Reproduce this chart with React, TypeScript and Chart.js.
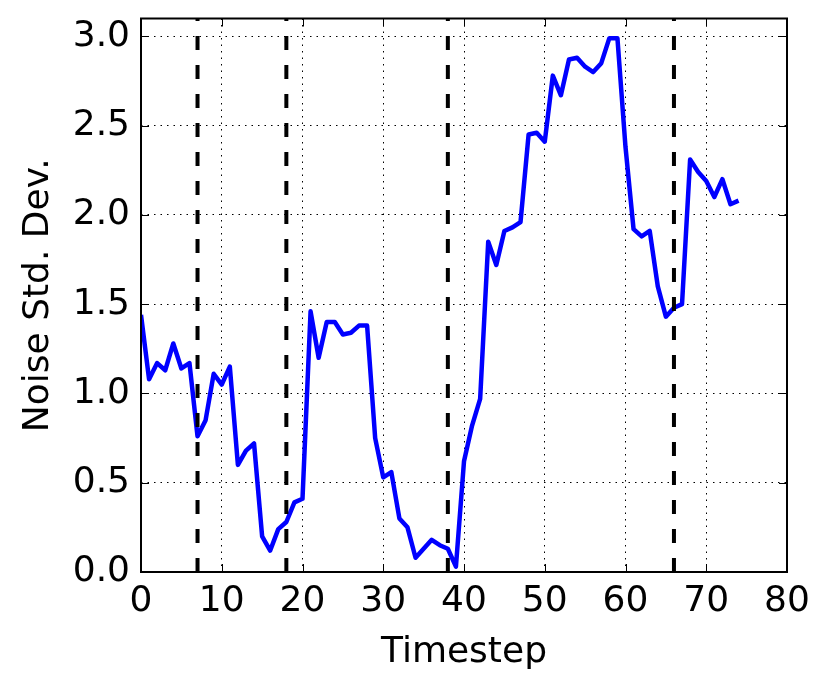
import React, { useEffect, useRef } from "react";
import { Chart, registerables } from "chart.js";
Chart.register(...registerables);

const noiseStd = [
  1.44, 1.08, 1.17, 1.13, 1.28, 1.14, 1.17, 0.76, 0.85, 1.11,
  1.05, 1.15, 0.60, 0.68, 0.72, 0.20, 0.12, 0.24, 0.28, 0.39,
  0.41, 1.46, 1.20, 1.40, 1.40, 1.33, 1.34, 1.38, 1.38, 0.75,
  0.53, 0.56, 0.30, 0.25, 0.08, 0.13, 0.18, 0.15, 0.13, 0.03,
  0.62, 0.82, 0.97, 1.85, 1.72, 1.91, 1.93, 1.96, 2.45, 2.46,
  2.41, 2.78, 2.67, 2.87, 2.88, 2.83, 2.80, 2.85, 2.99, 2.99,
  2.38, 1.92, 1.88, 1.91, 1.60, 1.43, 1.48, 1.50, 2.31, 2.24,
  2.19, 2.10, 2.20, 2.06, 2.08,
];
const changePoints = [7, 18, 38, 66];
const yTicks = [0, 0.5, 1.0, 1.5, 2.0, 2.5, 3.0];
const xTicks = [0, 10, 20, 30, 40, 50, 60, 70, 80];
const yRange = [0, 3.1];
const xRange = [0, 80];

const FONT = "'DejaVu Sans', sans-serif";

const framePlugin = {
  id: "frameTicks",
  afterDraw(chart: any) {
    const { ctx, chartArea: a, scales } = chart;
    const xs = scales.x;
    const ys = scales.y;
    const L = 8;
    ctx.save();
    ctx.strokeStyle = "#000";
    ctx.lineWidth = 1;
    ctx.beginPath();
    xTicks.forEach((v) => {
      const px = Math.round(xs.getPixelForValue(v)) + 0.5;
      ctx.moveTo(px, a.bottom);
      ctx.lineTo(px, a.bottom - L);
      ctx.moveTo(px, a.top);
      ctx.lineTo(px, a.top + L);
    });
    yTicks.forEach((v) => {
      const py = Math.round(ys.getPixelForValue(v)) + 0.5;
      ctx.moveTo(a.left, py);
      ctx.lineTo(a.left + L, py);
      ctx.moveTo(a.right, py);
      ctx.lineTo(a.right - L, py);
    });
    ctx.stroke();
    ctx.lineWidth = 2;
    ctx.strokeRect(a.left, a.top, a.right - a.left, a.bottom - a.top);
    ctx.restore();
  },
};

export default function App() {
  const ref = useRef<HTMLCanvasElement | null>(null);
  useEffect(() => {
    if (!ref.current) return;
    const datasets: any[] = changePoints.map((c) => ({
      data: [
        { x: c, y: yRange[0] },
        { x: c, y: yRange[1] },
      ],
      borderColor: "#000",
      borderWidth: 4,
      borderDash: [14, 15],
      borderCapStyle: "butt",
      pointRadius: 0,
      tension: 0,
    }));
    datasets.push({
      data: noiseStd.map((v, i) => ({ x: i, y: v })),
      borderColor: "#0000ff",
      borderWidth: 4.5,
      borderJoinStyle: "round",
      pointRadius: 0,
      tension: 0,
    });
    const chart = new Chart(ref.current, {
      type: "line",
      data: { datasets },
      plugins: [framePlugin],
      options: {
        animation: false,
        responsive: false,
        events: [],
        layout: { padding: { left: 0, right: 43, top: 18.5, bottom: 0 } },
        plugins: { legend: { display: false }, tooltip: { enabled: false } },
        scales: {
          x: {
            type: "linear",
            min: xRange[0],
            max: xRange[1],
            afterBuildTicks: (s: any) => {
              s.ticks = xTicks.map((v) => ({ value: v }));
            },
            afterFit: (s: any) => {
              s.height = 117;
              s.paddingLeft = 0;
              s.paddingRight = 0;
            },
            ticks: {
              color: "#000",
              font: { family: FONT, size: 36 },
              padding: 8,
              maxRotation: 0,
              autoSkip: false,
              callback: (v: any) => String(v),
            },
            grid: { color: "#000", lineWidth: 1, drawTicks: false },
            border: { display: false, dash: [1.5, 5] },
            title: {
              display: true,
              text: "Timestep",
              color: "#000",
              font: { family: FONT, size: 36 },
              padding: { top: 0, bottom: 15 },
            },
          },
          y: {
            type: "linear",
            min: yRange[0],
            max: yRange[1],
            afterBuildTicks: (s: any) => {
              s.ticks = yTicks.map((v) => ({ value: v }));
            },
            afterFit: (s: any) => {
              s.width = 141;
              s.paddingTop = 0;
              s.paddingBottom = 0;
            },
            ticks: {
              color: "#000",
              font: { family: FONT, size: 36 },
              padding: 11,
              autoSkip: false,
              callback: (v: any) => Number(v).toFixed(1),
            },
            grid: { color: "#000", lineWidth: 1, drawTicks: false },
            border: { display: false, dash: [1.5, 5] },
            title: {
              display: true,
              text: "Noise Std. Dev.",
              color: "#000",
              font: { family: FONT, size: 36 },
              padding: { top: 17, bottom: 0 },
            },
          },
        },
      } as any,
    });
    return () => chart.destroy();
  }, []);
  return (
    <div style={{ position: "fixed", left: 0, top: 0, width: 830, height: 689, background: "#fff" }}>
      <canvas ref={ref} width={830} height={689} style={{ display: "block" }} />
    </div>
  );
}
